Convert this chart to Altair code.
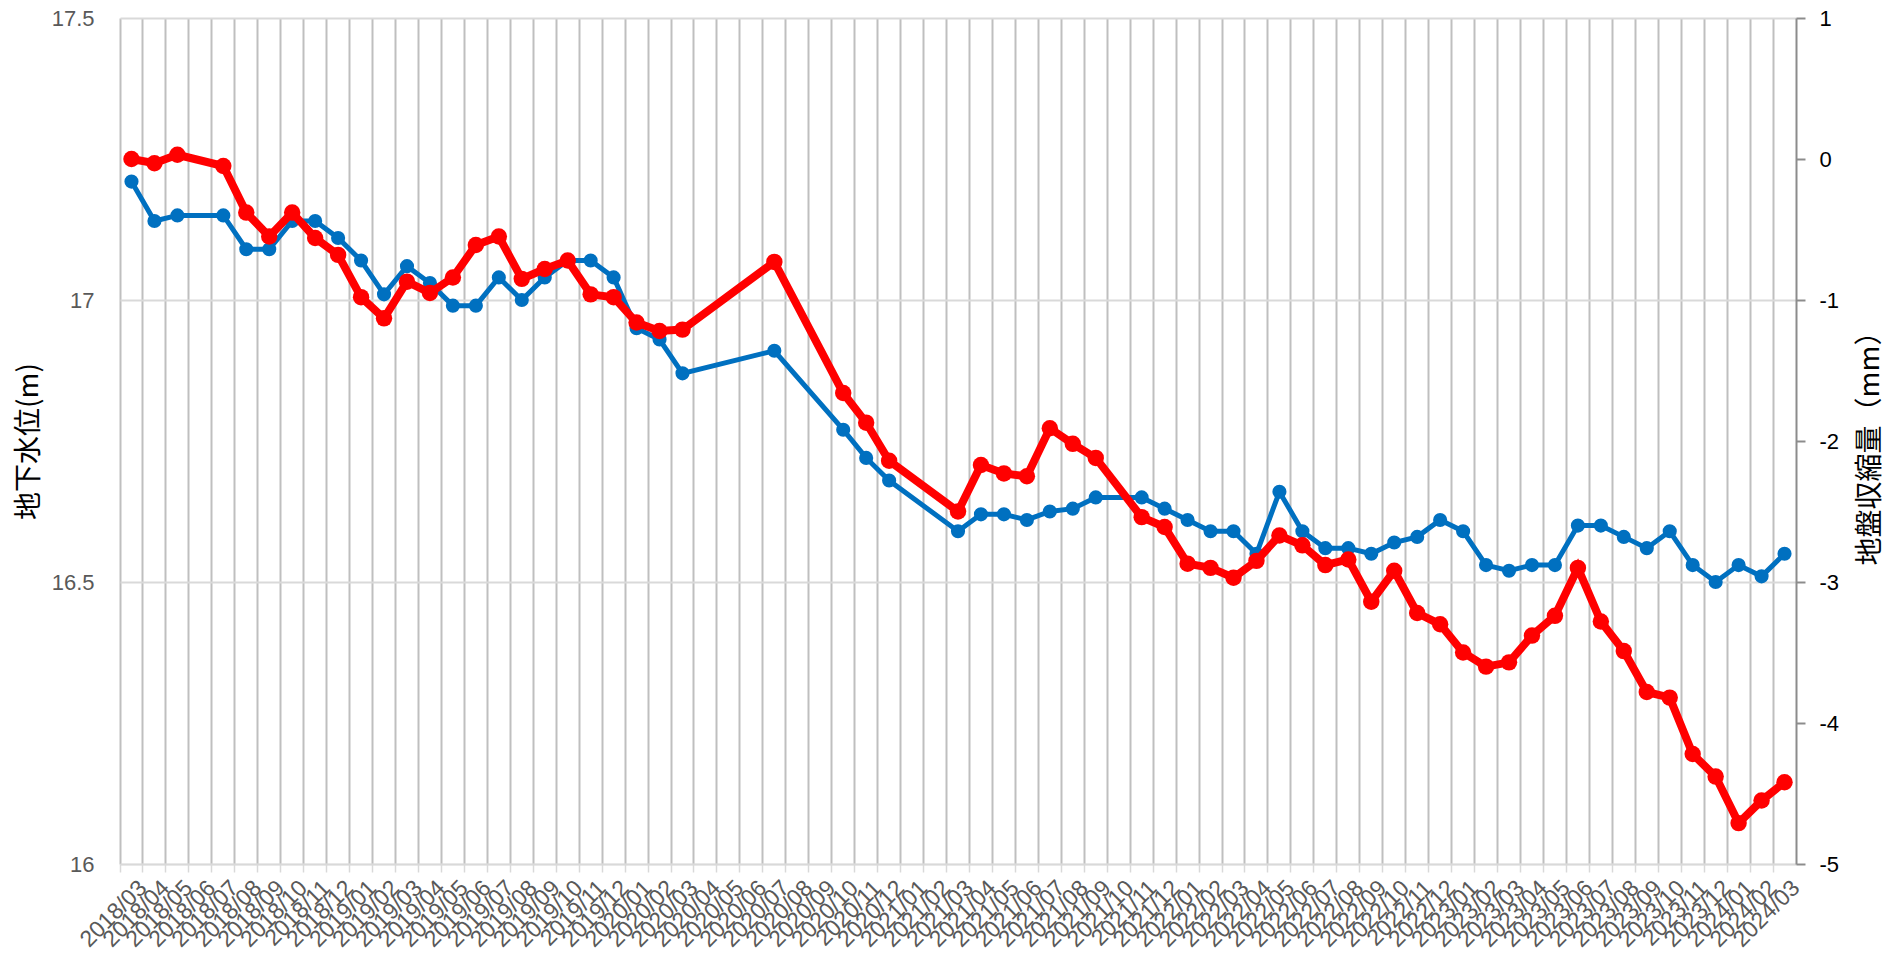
import altair as alt
import pandas as pd

months = [
    "2018/03", "2018/04", "2018/05", "2018/06", "2018/07", "2018/08", "2018/09", "2018/10", "2018/11", "2018/12",
    "2019/01", "2019/02", "2019/03", "2019/04", "2019/05", "2019/06", "2019/07", "2019/08", "2019/09", "2019/10", "2019/11", "2019/12",
    "2020/01", "2020/02", "2020/03", "2020/04", "2020/05", "2020/06", "2020/07", "2020/08", "2020/09", "2020/10", "2020/11", "2020/12",
    "2021/01", "2021/02", "2021/03", "2021/04", "2021/05", "2021/06", "2021/07", "2021/08", "2021/09", "2021/10", "2021/11", "2021/12",
    "2022/01", "2022/02", "2022/03", "2022/04", "2022/05", "2022/06", "2022/07", "2022/08", "2022/09", "2022/10", "2022/11", "2022/12",
    "2023/01", "2023/02", "2023/03", "2023/04", "2023/05", "2023/06", "2023/07", "2023/08", "2023/09", "2023/10", "2023/11", "2023/12",
    "2024/01", "2024/02", "2024/03",
]

# 地下水位 (m), left axis
groundwater = [
    17.21, 17.14, 17.15, None, 17.15, 17.09, 17.09, 17.14, 17.14, 17.11,
    17.07, 17.01, 17.06, 17.03, 16.99, 16.99, 17.04, 17.00, 17.04, 17.07, 17.07, 17.04,
    16.95, 16.93, 16.87, None, None, None, 16.91, None, None, 16.77, 16.72, 16.68,
    None, None, 16.59, 16.62, 16.62, 16.61, 16.625, 16.63, 16.65, None, 16.65, 16.63,
    16.61, 16.59, 16.59, 16.55, 16.66, 16.59, 16.56, 16.56, 16.55, 16.57, 16.58, 16.61,
    16.59, 16.53, 16.52, 16.53, 16.53, 16.60, 16.60, 16.58, 16.56, 16.59, 16.53, 16.50,
    16.53, 16.51, 16.55,
]

# 地盤収縮量 (mm), right axis
shrinkage = [
    0.00, -0.03, 0.03, None, -0.05, -0.38, -0.55, -0.38, -0.56, -0.68,
    -0.98, -1.13, -0.87, -0.95, -0.84, -0.61, -0.55, -0.85, -0.78, -0.72, -0.96, -0.98,
    -1.16, -1.22, -1.21, None, None, None, -0.73, None, None, -1.66, -1.87, -2.14,
    None, None, -2.50, -2.17, -2.23, -2.25, -1.91, -2.02, -2.12, None, -2.54, -2.61,
    -2.87, -2.90, -2.97, -2.85, -2.67, -2.74, -2.88, -2.84, -3.14, -2.92, -3.22, -3.30,
    -3.50, -3.60, -3.57, -3.38, -3.24, -2.90, -3.28, -3.49, -3.78, -3.82, -4.22, -4.38,
    -4.71, -4.55, -4.42,
]

left_ticks = [16, 16.5, 17, 17.5]
right_ticks = [-5, -4, -3, -2, -1, 0, 1]

gw_df = pd.DataFrame([{"month": m, "gw": v} for m, v in zip(months, groundwater) if v is not None])
sh_df = pd.DataFrame([{"month": m, "sh": v} for m, v in zip(months, shrinkage) if v is not None])

LATIN = "Liberation Sans"
CJK = "Noto Sans CJK JP"

PLOT_H = 846

x_scale = alt.Scale(type="band", domain=months, paddingInner=0, paddingOuter=0)
x_axis = alt.Axis(
    title=None,
    bandPosition=0,
    labelOffset=11.5,
    labelAngle=315,
    labelAlign="right",
    labelBaseline="middle",
    labelPadding=12,
    labelOverlap=False,
    labelFont=LATIN,
    labelFontSize=23,
    labelColor="#595959",
    grid=True,
    gridColor="#bfbfbf",
    gridWidth=2,
    ticks=True,
    tickSize=8,
    tickColor="#d9d9d9",
    tickWidth=1.5,
    domain=True,
    domainColor="#d9d9d9",
    domainWidth=1.5,
)

blue = alt.Chart(gw_df).mark_line(
    color="#0070C0",
    strokeWidth=5,
    point=alt.OverlayMarkDef(filled=True, size=200, color="#0070C0", opacity=1),
).encode(
    x=alt.X("month:N", scale=x_scale, bandPosition=0.5, axis=x_axis),
    y=alt.Y(
        "gw:Q",
        scale=alt.Scale(domain=[16, 17.5], nice=False, zero=False),
        axis=alt.Axis(
            orient="left",
            values=left_ticks,
            labelExpr="datum.value + ''",
            grid=True,
            gridColor="#d9d9d9",
            gridWidth=2,
            domain=False,
            ticks=False,
            labelPadding=26,
            labelFont=LATIN,
            labelFontSize=22,
            labelColor="#595959",
            title="地下水位(m)",
            titleFont=CJK,
            titleFontSize=28,
            titleFontWeight="normal",
            titleColor="#000000",
            titleAngle=270,
            titleX=-91,
            titleY=PLOT_H / 2,
            titleAlign="center",
            titleBaseline="middle",
        ),
    ),
)

red = alt.Chart(sh_df).mark_line(
    color="#FF0000",
    strokeWidth=8,
    point=alt.OverlayMarkDef(filled=True, size=270, color="#FF0000", opacity=1),
).encode(
    x=alt.X("month:N", scale=x_scale, bandPosition=0.5, axis=x_axis),
    y=alt.Y(
        "sh:Q",
        scale=alt.Scale(domain=[-5, 1], nice=False, zero=False),
        axis=alt.Axis(
            orient="right",
            values=right_ticks,
            labelExpr="datum.value + ''",
            grid=False,
            domain=True,
            domainColor="#8c8c8c",
            domainWidth=2,
            ticks=True,
            tickSize=9,
            tickColor="#8c8c8c",
            tickWidth=2,
            labelPadding=14,
            labelFont=LATIN,
            labelFontSize=22,
            labelColor="#000000",
            title="地盤収縮量（mm）",
            titleFont=CJK,
            titleFontSize=28,
            titleFontWeight="normal",
            titleColor="#000000",
            titleAngle=270,
            titleX=74,
            titleY=PLOT_H / 2,
            titleAlign="center",
            titleBaseline="middle",
        ),
    ),
)

chart = alt.layer(blue, red).resolve_scale(y="independent").properties(
    width=1676,
    height=PLOT_H,
    padding={"left": 112, "top": 10, "right": 91, "bottom": 92},
    autosize=alt.AutoSizeParams(type="none"),
    background="#ffffff",
).configure_view(stroke=None)

chart.save("out.html", embed_options={"renderer": "svg", "actions": False})
